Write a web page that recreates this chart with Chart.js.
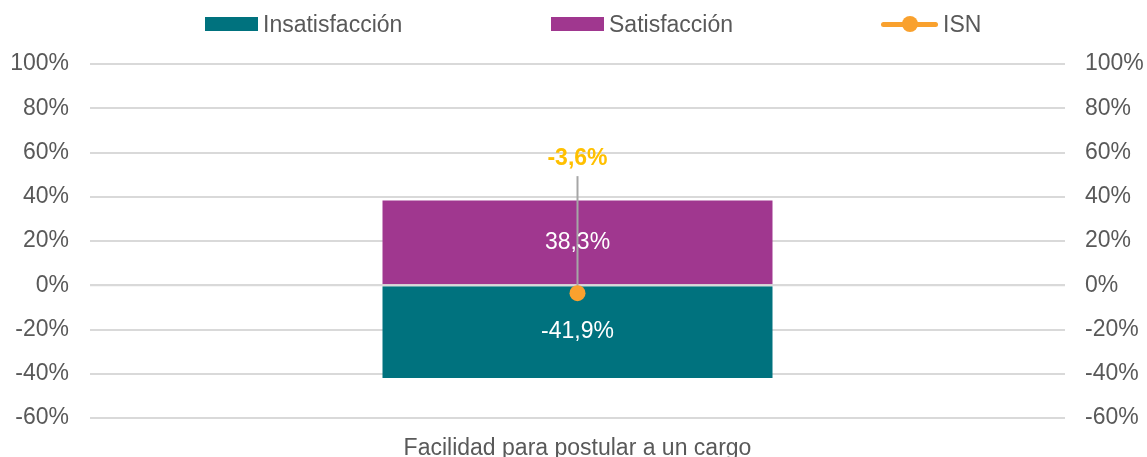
<!DOCTYPE html>
<html lang="es">
<head>
  <meta charset="UTF-8" />
  <title>Facilidad para postular a un cargo</title>
  <script src="https://cdn.jsdelivr.net/npm/chart.js"></script>
  <style>
    body {
      margin: 0;
      background: #ffffff;
      font-family: 'Liberation Sans', Arial, sans-serif;
    }

    .wrap {
      position: relative;
      width: 1147px;
      height: 457px;
    }

    .legend {
      position: absolute;
      top: 0;
      left: 0;
      width: 100%;
      height: 48px;
      color: #595959;
      font-size: 23px;
    }

    .legend .item {
      position: absolute;
      top: 10px;
      height: 28px;
      display: flex;
      align-items: center;
      gap: 5px;
      white-space: nowrap;
    }

    .legend .box {
      width: 53px;
      height: 14px;
    }

    .legend .line {
      position: relative;
      width: 57px;
      height: 5px;
      border-radius: 3px;
      background: #f9a12e;
    }

    .legend .line::after {
      content: '';
      position: absolute;
      left: 21px;
      top: -6px;
      width: 16px;
      height: 16px;
      border-radius: 50%;
      background: #f9a12e;
    }
  </style>
</head>
<body>
  <div class="wrap">
    <canvas id="chart" width="1147" height="457"></canvas>
    <div class="legend" id="legend"></div>
  </div>

  <script>
    const categories = ['Facilidad para postular a un cargo'];
    const insatisfaccion = [-41.9];
    const satisfaccion = [38.3];
    const isn = [-3.6];
    const yMin = -60;
    const yMax = 100;
    const yStep = 20;
    const isnLabelAt = 57; // height of the ISN callout, in axis units

    const teal = '#00727e';
    const purple = '#a0378f';
    const orange = '#f9a12e';
    const gold = '#ffc000';
    const grey = '#595959';
    const font = "'Liberation Sans', Arial, sans-serif";

    const fmt = v => v.toFixed(1).replace('.', ',') + '%';

    // legend in html, placed like the original
    const legendItems = [
      { text: 'Insatisfacción', color: teal, left: 205, kind: 'box' },
      { text: 'Satisfacción', color: purple, left: 551, kind: 'box' },
      { text: 'ISN', color: orange, left: 881, kind: 'line' }
    ];
    const legend = document.getElementById('legend');
    legendItems.forEach(it => {
      const div = document.createElement('div');
      div.className = 'item';
      div.style.left = it.left + 'px';
      const mark = document.createElement('span');
      mark.className = it.kind;
      if (it.kind === 'box') mark.style.background = it.color;
      div.appendChild(mark);
      div.appendChild(document.createTextNode(it.text));
      legend.appendChild(div);
    });

    // zero line over the bars, leader line, and the value labels
    const labelsPlugin = {
      id: 'labels',
      beforeDatasetDraw(chart, args) {
        if (chart.data.datasets[args.index].type !== 'line') return;
        const ctx = chart.ctx;
        const area = chart.chartArea;
        const y0 = chart.scales.y.getPixelForValue(0);
        ctx.save();
        ctx.strokeStyle = '#d9d9d9';
        ctx.lineWidth = 2;
        ctx.beginPath();
        ctx.moveTo(area.left, y0);
        ctx.lineTo(area.right, y0);
        ctx.stroke();

        const meta = chart.getDatasetMeta(args.index);
        meta.data.forEach(pt => {
          const top = chart.scales.y1.getPixelForValue(isnLabelAt) + 17;
          ctx.strokeStyle = '#a6a6a6';
          ctx.lineWidth = 2;
          ctx.beginPath();
          ctx.moveTo(pt.x, top);
          ctx.lineTo(pt.x, pt.y);
          ctx.stroke();
        });
        ctx.restore();
      },
      afterDatasetsDraw(chart) {
        const ctx = chart.ctx;
        ctx.save();
        ctx.textAlign = 'center';
        ctx.textBaseline = 'middle';
        chart.data.datasets.forEach((ds, i) => {
          const meta = chart.getDatasetMeta(i);
          meta.data.forEach((el, j) => {
            const v = ds.data[j];
            if (ds.type === 'line') {
              ctx.font = 'bold 23px ' + font;
              ctx.fillStyle = gold;
              ctx.fillText(fmt(v), el.x, chart.scales.y1.getPixelForValue(isnLabelAt));
            } else {
              ctx.font = '23px ' + font;
              ctx.fillStyle = '#ffffff';
              ctx.fillText(fmt(v), el.x, (el.y + el.base) / 2);
            }
          });
        });
        ctx.restore();
      }
    };

    const tickOpts = {
      color: grey,
      font: { family: font, size: 23 },
      stepSize: yStep,
      padding: 21,
      callback: v => v + '%'
    };

    new Chart(document.getElementById('chart'), {
      data: {
        labels: categories,
        datasets: [
          {
            type: 'line',
            label: 'ISN',
            data: isn,
            yAxisID: 'y1',
            borderColor: orange,
            backgroundColor: orange,
            pointRadius: 8,
            pointHoverRadius: 8,
            borderWidth: 0,
            order: 0
          },
          {
            type: 'bar',
            label: 'Insatisfacción',
            data: insatisfaccion,
            backgroundColor: teal,
            barPercentage: 0.4,
            categoryPercentage: 1,
            order: 1
          },
          {
            type: 'bar',
            label: 'Satisfacción',
            data: satisfaccion,
            backgroundColor: purple,
            barPercentage: 0.4,
            categoryPercentage: 1,
            order: 1
          }
        ]
      },
      options: {
        responsive: false,
        animation: false,
        devicePixelRatio: 1,
        layout: { padding: { left: 0, right: 0, top: 64, bottom: 0 } },
        plugins: {
          legend: { display: false },
          tooltip: { enabled: false }
        },
        scales: {
          x: {
            stacked: true,
            grid: { display: false },
            border: { display: false },
            ticks: { color: grey, font: { family: font, size: 23 }, padding: 9 },
            afterFit: s => { s.height = 39; }
          },
          y: {
            stacked: true,
            position: 'left',
            min: yMin,
            max: yMax,
            grid: { color: '#d9d9d9', lineWidth: 2, drawTicks: false },
            border: { display: false },
            ticks: tickOpts,
            afterFit: s => { s.width = 90; }
          },
          y1: {
            position: 'right',
            min: yMin,
            max: yMax,
            grid: { display: false, drawTicks: false },
            border: { display: false },
            ticks: Object.assign({}, tickOpts, { padding: 20 }),
            afterFit: s => { s.width = 82; }
          }
        }
      },
      plugins: [labelsPlugin]
    });
  </script>
</body>
</html>
